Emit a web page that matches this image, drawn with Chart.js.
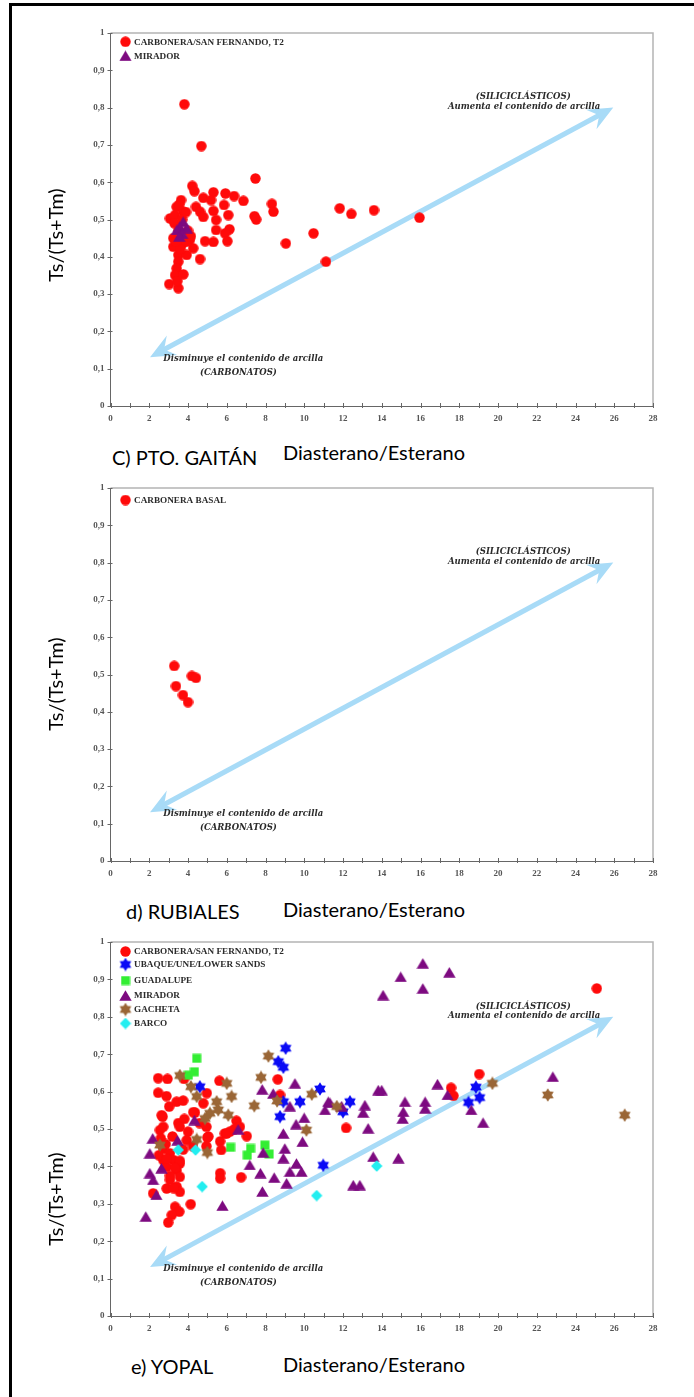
<!DOCTYPE html>
<html>
<head>
<meta charset="utf-8">
<script src="https://cdn.jsdelivr.net/npm/chart.js@4.4.0/dist/chart.umd.min.js"></script>
<style>
  html, body { margin: 0; padding: 0; background: #fff; }
  body { width: 694px; height: 1397px; position: relative; overflow: hidden; }
  .frame { position: absolute; left: 9px; top: 3px; width: 720px; height: 1420px;
           border-left: 3px solid #000; border-top: 3px solid #000; box-sizing: border-box; }
  canvas.panel { position: absolute; left: 0; }
  .lbl { position: absolute; font-family: Lato, "Liberation Sans", sans-serif; font-size: 20px;
         color: #000; white-space: nowrap; line-height: 22px; height: 22px; }
  .ytitle { width: 140px; text-align: center; transform: rotate(-90deg); transform-origin: 50% 50%; }
</style>
</head>
<body>
<div class="frame"></div>

<canvas id="pGaitan" class="panel" width="694" height="418" style="top:18px"></canvas>
<canvas id="pRubiales" class="panel" width="694" height="418" style="top:473px"></canvas>
<canvas id="pYopal" class="panel" width="694" height="419" style="top:927px"></canvas>

<div class="lbl ytitle" style="left:-15px; top:224px;">Ts/(Ts+Tm)</div>
<div class="lbl ytitle" style="left:-15px; top:673px;">Ts/(Ts+Tm)</div>
<div class="lbl ytitle" style="left:-15px; top:1188px;">Ts/(Ts+Tm)</div>

<div class="lbl" style="left:112px; top:446px;">C) PTO. GAITÁN</div>
<div class="lbl" style="left:283px; top:441px;">Diasterano/Esterano</div>
<div class="lbl" style="left:126px; top:900px;">d) RUBIALES</div>
<div class="lbl" style="left:283px; top:898px;">Diasterano/Esterano</div>
<div class="lbl" style="left:131px; top:1355px;">e) YOPAL</div>
<div class="lbl" style="left:283px; top:1353px;">Diasterano/Esterano</div>

<script>
// ---------- axes ----------
const xTicks = [0, 2, 4, 6, 8, 10, 12, 14, 16, 18, 20, 22, 24, 26, 28];
const yTicks = ['0', '0,1', '0,2', '0,3', '0,4', '0,5', '0,6', '0,7', '0,8', '0,9', '1'];

// ---------- c) Pto. Gaitán ----------
const gaitanCarbonera = [
  [3.81,0.809],[4.69,0.697],[7.48,0.610],[4.22,0.590],[4.33,0.576],[5.31,0.573],[5.93,0.570],
  [6.38,0.563],[6.86,0.550],[4.79,0.558],[5.19,0.552],[5.86,0.539],[8.33,0.542],[8.41,0.521],
  [3.64,0.552],[3.41,0.534],[3.76,0.521],[4.41,0.534],[4.62,0.521],[4.79,0.507],[5.31,0.523],
  [5.45,0.499],[6.08,0.512],[3.07,0.503],[3.33,0.512],[7.43,0.509],[7.52,0.500],[5.45,0.472],
  [6.14,0.474],[5.91,0.463],[6.03,0.442],[4.88,0.442],[5.31,0.440],[9.05,0.436],[4.10,0.445],
  [4.27,0.423],[3.24,0.450],[3.24,0.427],[3.67,0.432],[4.62,0.394],[3.50,0.405],[3.93,0.405],
  [3.50,0.387],[3.41,0.369],[3.33,0.351],[3.76,0.353],[3.03,0.327],[3.50,0.316],[3.45,0.335],
  [11.83,0.530],[12.43,0.515],[13.60,0.525],[15.95,0.505],[10.48,0.463],[11.12,0.387],
  [3.50,0.470],[3.90,0.440],[3.30,0.490],[3.70,0.500],[4.00,0.470],[3.60,0.420],[3.40,0.440],
  [3.90,0.520],[3.55,0.540],[4.15,0.455]
];
const gaitanMirador = [[3.75,0.494],[3.58,0.481],[3.93,0.477],[3.42,0.472],[3.70,0.462],[3.55,0.455]];

// ---------- d) Rubiales ----------
const rubialesCarboneraBasal = [[3.29,0.523],[3.38,0.469],[3.74,0.445],[4.00,0.426],[4.20,0.496],[4.41,0.491]];

// ---------- e) Yopal ----------
const yopalCarbonera = [
  [2.46,0.636],[2.94,0.634],[3.80,0.634],[2.46,0.597],[2.89,0.588],[3.03,0.560],[3.41,0.573],
  [3.75,0.576],[2.69,0.533],[3.50,0.516],[4.79,0.569],[4.97,0.596],[5.62,0.629],[8.63,0.633],
  [8.75,0.591],[3.81,0.527],[4.36,0.544],[6.50,0.522],[6.59,0.504],[12.16,0.503],
  [25.10,0.876],[19.03,0.647],[17.58,0.610],[17.70,0.589],
  [2.64,0.537],[4.27,0.545],[2.55,0.497],[2.72,0.506],[3.58,0.506],[4.00,0.493],[4.60,0.516],
  [4.95,0.506],[6.68,0.506],[7.03,0.481],[5.90,0.488],[6.16,0.493],[5.05,0.480],[5.66,0.467],
  [5.71,0.444],[3.93,0.470],[2.72,0.448],[3.07,0.435],[2.72,0.417],[3.25,0.417],[3.58,0.408],
  [2.90,0.399],[3.41,0.390],[3.58,0.372],[3.07,0.364],[3.41,0.346],[2.90,0.341],[2.20,0.328],
  [3.58,0.332],[3.25,0.342],[5.66,0.382],[5.66,0.368],[6.74,0.371],[3.33,0.292],[3.55,0.279],
  [4.14,0.299],[3.16,0.270],[2.98,0.250],[5.00,0.477],[4.95,0.454],[4.25,0.454],[3.75,0.445],
  [3.58,0.415],[3.33,0.397],[3.07,0.375],[6.00,0.488],[6.40,0.500],[2.60,0.475],[2.85,0.460],
  [3.20,0.480],[2.50,0.430],[2.90,0.420]
];
const yopalUbaque = [
  [4.61,0.613],[9.04,0.716],[8.66,0.680],[8.92,0.665],[8.92,0.573],[9.78,0.573],[8.75,0.533],
  [10.81,0.607],[12.36,0.573],[12.00,0.546],[10.98,0.403],[18.86,0.612],[19.05,0.584],[18.48,0.571]
];
const yopalGuadalupe = [[4.02,0.644],[4.33,0.653],[4.45,0.689],[6.20,0.451],[7.23,0.448],[7.97,0.457],[7.06,0.430],[8.19,0.433]];
const yopalMirador = [
  [14.07,0.858],[16.12,0.943],[14.98,0.907],[17.49,0.919],[16.12,0.876],
  [22.83,0.640],[18.62,0.551],[19.23,0.517],[17.40,0.591],[16.88,0.620],[16.24,0.573],[16.24,0.555],
  [15.20,0.573],[15.11,0.546],[15.08,0.528],[13.82,0.604],[14.00,0.604],[13.13,0.564],[13.04,0.544],
  [13.30,0.502],[11.93,0.561],[11.33,0.570],[11.24,0.573],[11.07,0.551],
  [7.83,0.606],[8.40,0.595],[9.52,0.622],[9.26,0.561],[10.00,0.530],[9.58,0.513],[8.92,0.488],
  [9.91,0.466],[9.00,0.448],[8.92,0.422],[9.60,0.408],[9.26,0.386],[9.86,0.386],[9.09,0.355],
  [13.56,0.426],[14.86,0.422],[12.53,0.350],[12.87,0.350],
  [4.33,0.524],[2.18,0.475],[2.03,0.435],[3.46,0.470],[2.63,0.395],[2.03,0.382],[2.20,0.364],
  [2.37,0.324],[1.82,0.266],[5.78,0.295],[6.59,0.499],[7.88,0.437],[7.19,0.404],[7.74,0.382],
  [8.45,0.370],[7.84,0.333]
];
const yopalGacheta = [
  [3.58,0.643],[4.15,0.613],[4.45,0.587],[5.48,0.573],[5.56,0.551],[5.13,0.542],[6.08,0.537],
  [4.88,0.528],[6.00,0.622],[6.25,0.587],[7.42,0.562],[7.77,0.638],[8.15,0.695],[10.39,0.593],
  [11.68,0.560],[8.60,0.575],[22.57,0.591],[26.54,0.537],[19.71,0.622],[4.45,0.472],[2.55,0.457],
  [5.00,0.437],[10.11,0.497]
];
const yopalBarco = [[3.50,0.444],[4.39,0.444],[4.73,0.346],[13.74,0.401],[10.64,0.322]];

// ---------- marker images ----------
function marker(shape, color, w, h) {
  h = h || w;
  const c = document.createElement('canvas');
  c.width = w; c.height = h;
  const g = c.getContext('2d');
  g.fillStyle = color;
  g.beginPath();
  const cx = w / 2, cy = h / 2;
  if (shape === 'circle') {
    g.arc(cx, cy, w / 2 - 0.3, 0, Math.PI * 2);
  } else if (shape === 'triangle') {
    g.moveTo(cx, 0.3); g.lineTo(w - 0.3, h - 0.3); g.lineTo(0.3, h - 0.3); g.closePath();
  } else if (shape === 'square') {
    g.rect(0.5, 0.5, w - 1, h - 1);
  } else if (shape === 'diamond') {
    g.moveTo(cx, 0.3); g.lineTo(w - 0.3, cy); g.lineTo(cx, h - 0.3); g.lineTo(0.3, cy); g.closePath();
  } else if (shape === 'star6') {
    const R = w / 2 - 0.3, r = R * 0.6;
    for (let i = 0; i < 12; i++) {
      const a = -Math.PI / 2 + i * Math.PI / 6;
      const rr = i % 2 ? r : R;
      const px = cx + rr * Math.cos(a), py = cy + rr * Math.sin(a);
      i ? g.lineTo(px, py) : g.moveTo(px, py);
    }
    g.closePath();
  }
  g.fill();
  return c;
}
const mRed = marker('circle', '#ff0a0a', 11);
const mBlue = marker('star6', '#0a0af5', 14);
const mGreen = marker('square', '#33ee33', 10);
const mPurple = marker('triangle', '#7d0a80', 13, 11);
const mBrown = marker('star6', '#9a6636', 14);
const mCyan = marker('diamond', '#22eef0', 12);

function series(label, pts, img, order) {
  return { label, data: pts.map(p => ({ x: p[0], y: p[1] })), pointStyle: img, order,
           pointRadius: 6, pointHoverRadius: 6, showLine: false };
}

// ---------- drawing helpers ----------
const ARROW = '#a8dbf7';
function arrowHead(ctx, tx, ty, ang) {
  const L = 25, W = 11, N = 9;
  const dx = Math.cos(ang), dy = Math.sin(ang), px = -dy, py = dx;
  ctx.beginPath();
  ctx.moveTo(tx, ty);
  ctx.lineTo(tx - L * dx + W * px, ty - L * dy + W * py);
  ctx.lineTo(tx - (L - N) * dx, ty - (L - N) * dy);
  ctx.lineTo(tx - L * dx - W * px, ty - L * dy - W * py);
  ctx.closePath();
  ctx.fill();
}

const decor = {
  id: 'decor',
  beforeDatasetsDraw(chart) {
    const { ctx, chartArea: a, scales: { x, y } } = chart;
    ctx.save();
    // plot frame (top and right)
    ctx.strokeStyle = '#b4b4b4'; ctx.lineWidth = 1.5;
    ctx.beginPath();
    ctx.moveTo(a.left, a.top); ctx.lineTo(a.right, a.top); ctx.lineTo(a.right, a.bottom);
    ctx.stroke();
    // tick marks
    ctx.strokeStyle = '#666'; ctx.lineWidth = 1;
    ctx.beginPath();
    for (let v = 0; v <= 28; v++) {
      const px = Math.round(x.getPixelForValue(v)) + 0.5;
      ctx.moveTo(px, a.bottom - 3); ctx.lineTo(px, a.bottom + 2);
    }
    for (let i = 0; i <= 10; i++) {
      const py = Math.round(y.getPixelForValue(i / 10)) + 0.5;
      ctx.moveTo(a.left - 3, py); ctx.lineTo(a.left + 2, py);
    }
    ctx.stroke();
    // clay-content arrow
    const x1 = x.getPixelForValue(2.04), y1 = y.getPixelForValue(0.131);
    const x2 = x.getPixelForValue(25.95), y2 = y.getPixelForValue(0.80);
    const ang = Math.atan2(y2 - y1, x2 - x1);
    ctx.strokeStyle = ARROW; ctx.fillStyle = ARROW; ctx.lineWidth = 5;
    ctx.beginPath();
    ctx.moveTo(x1 + 15 * Math.cos(ang), y1 + 15 * Math.sin(ang));
    ctx.lineTo(x2 - 15 * Math.cos(ang), y2 - 15 * Math.sin(ang));
    ctx.stroke();
    arrowHead(ctx, x2, y2, ang);
    arrowHead(ctx, x1, y1, ang + Math.PI);
    // arrow captions
    ctx.fillStyle = '#2b2b2b';
    ctx.font = 'bold italic 8.5px "DejaVu Serif", serif';
    ctx.textAlign = 'center'; ctx.textBaseline = 'middle';
    ctx.fillText('(SILICICLÁSTICOS)', x.getPixelForValue(21.3), y.getPixelForValue(0.828));
    ctx.fillText('Aumenta el contenido de arcilla', x.getPixelForValue(21.35), y.getPixelForValue(0.803));
    ctx.fillText('Disminuye el contenido de arcilla', x.getPixelForValue(6.85), y.getPixelForValue(0.126));
    ctx.fillText('(CARBONATOS)', x.getPixelForValue(6.6), y.getPixelForValue(0.088));
    ctx.restore();
  },
  afterDatasetsDraw(chart, args, opts) {
    const { ctx, chartArea: a } = chart;
    ctx.save();
    ctx.font = 'bold 9.2px "Liberation Serif", serif';
    ctx.fillStyle = '#2b2b2b';
    ctx.textAlign = 'left'; ctx.textBaseline = 'middle';
    chart.data.datasets.forEach((ds, i) => {
      const yy = a.top + opts.rows[i];
      const img = ds.pointStyle;
      ctx.drawImage(img, a.left + 15 - img.width / 2, yy - img.height / 2);
      ctx.fillText(ds.label, a.left + 23.5, yy + 0.5);
    });
    ctx.restore();
  }
};

function makePanel(id, datasets, rows) {
  const tickFont = { family: '"Liberation Serif", serif', size: 9, weight: 'bold' };
  return new Chart(document.getElementById(id), {
    type: 'scatter',
    data: { datasets },
    options: {
      responsive: false, animation: false, events: [],
      layout: { padding: { left: 70.5, right: 41, top: 15, bottom: 5 } },
      plugins: { legend: { display: false }, tooltip: { enabled: false }, decor: { rows } },
      scales: {
        x: {
          type: 'linear', min: 0, max: 28,
          afterFit(s) { s.height = 25; },
          grid: { display: false, drawTicks: false },
          border: { display: true, color: '#666', width: 1 },
          ticks: {
            stepSize: 2, autoSkip: false, maxRotation: 0, padding: 7, color: '#555', font: tickFont,
            callback: v => xTicks.includes(v) ? String(v) : ''
          }
        },
        y: {
          type: 'linear', min: 0, max: 1,
          afterFit(s) { s.width = 40; },
          grid: { display: false, drawTicks: false },
          border: { display: true, color: '#666', width: 1 },
          ticks: {
            stepSize: 0.1, autoSkip: false, padding: 6, color: '#555', font: tickFont,
            callback: v => yTicks[Math.round(v * 10)]
          }
        }
      }
    },
    plugins: [decor]
  });
}

makePanel('pGaitan', [
  series('CARBONERA/SAN FERNANDO, T2', gaitanCarbonera, mRed, 2),
  series('MIRADOR', gaitanMirador, mPurple, 1)
], [8.7, 22.8]);

makePanel('pRubiales', [
  series('CARBONERA BASAL', rubialesCarboneraBasal, mRed, 1)
], [12]);

makePanel('pYopal', [
  series('CARBONERA/SAN FERNANDO, T2', yopalCarbonera, mRed, 6),
  series('UBAQUE/UNE/LOWER SANDS', yopalUbaque, mBlue, 5),
  series('GUADALUPE', yopalGuadalupe, mGreen, 4),
  series('MIRADOR', yopalMirador, mPurple, 3),
  series('GACHETA', yopalGacheta, mBrown, 2),
  series('BARCO', yopalBarco, mCyan, 1)
], [9.5, 22.5, 38.5, 53.5, 67.5, 81.5]);
</script>
</body>
</html>
